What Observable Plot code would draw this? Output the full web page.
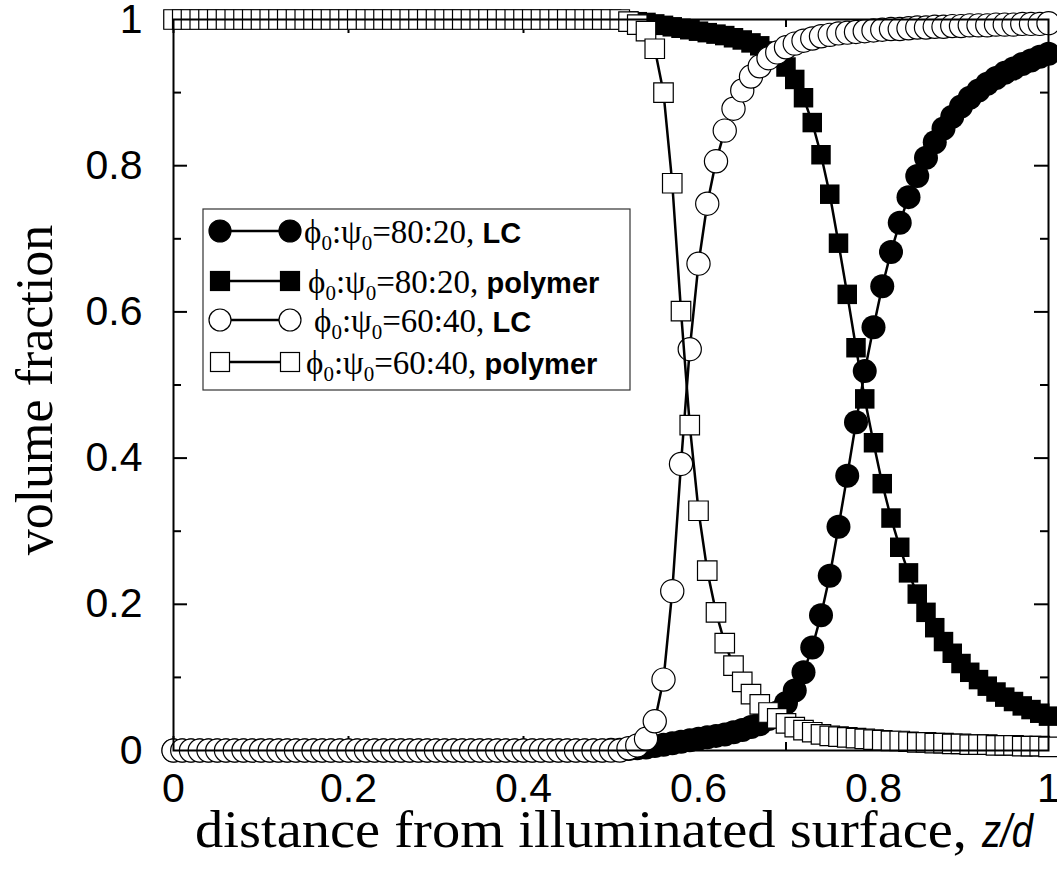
<!DOCTYPE html>
<html><head><meta charset="utf-8">
<script src="https://cdn.jsdelivr.net/npm/d3@7"></script>
<script src="https://cdn.jsdelivr.net/npm/@observablehq/plot@0.6"></script>
<style>html,body{margin:0;padding:0;background:#fff;} svg{display:block;}</style>
</head><body><div id="chart"></div>
<script>
// distance from illuminated surface z/d
const z = [
0,0.01,0.02,0.03,0.04,0.05,0.06,0.07,0.08,0.09,
0.1,0.11,0.12,0.13,0.14,0.15,0.16,0.17,0.18,0.19,
0.2,0.21,0.22,0.23,0.24,0.25,0.26,0.27,0.28,0.29,
0.3,0.31,0.32,0.33,0.34,0.35,0.36,0.37,0.38,0.39,
0.4,0.41,0.42,0.43,0.44,0.45,0.46,0.47,0.48,0.49,
0.5,0.51,0.52,0.53,0.54,0.55,0.56,0.57,0.58,0.59,
0.6,0.61,0.62,0.63,0.64,0.65,0.66,0.67,0.68,0.69,
0.7,0.71,0.72,0.73,0.74,0.75,0.76,0.77,0.78,0.79,
0.8,0.81,0.82,0.83,0.84,0.85,0.86,0.87,0.88,0.89,
0.9,0.91,0.92,0.93,0.94,0.95,0.96,0.97,0.98,0.99,
1];
// phi0:psi0 = 80:20, LC
const lc80 = [
0,0,0,0,0,0,0,0,0,0,
0,0,0,0,0,0,0,0,0,0,
0,0,0,0,0,0,0,0,0,0,
0,0,0,0,0,0,0,0,0,0,
0,0,0,0,0,0,0,0,0,0,
0.001,0.001,0.002,0.003,0.004,0.006,0.008,0.010,0.012,0.014,
0.016,0.018,0.020,0.022,0.025,0.028,0.032,0.036,0.043,0.052,
0.065,0.082,0.107,0.141,0.185,0.239,0.306,0.376,0.449,0.519,
0.579,0.635,0.682,0.722,0.757,0.786,0.811,0.832,0.851,0.867,
0.881,0.893,0.903,0.912,0.920,0.927,0.933,0.939,0.944,0.949,
0.953];
// phi0:psi0 = 80:20, polymer
const pol80 = [
1,1,1,1,1,1,1,1,1,1,
1,1,1,1,1,1,1,1,1,1,
1,1,1,1,1,1,1,1,1,1,
1,1,1,1,1,1,1,1,1,1,
1,1,1,1,1,1,1,1,1,1,
0.999,0.999,0.998,0.997,0.996,0.994,0.992,0.990,0.988,0.986,
0.984,0.982,0.980,0.978,0.975,0.972,0.968,0.964,0.957,0.948,
0.935,0.918,0.893,0.859,0.815,0.761,0.694,0.624,0.551,0.481,
0.421,0.365,0.318,0.278,0.243,0.214,0.189,0.168,0.149,0.133,
0.119,0.107,0.097,0.088,0.080,0.073,0.067,0.061,0.056,0.051,
0.047];
// phi0:psi0 = 60:40, LC
const lc60 = [
0,0,0,0,0,0,0,0,0,0,
0,0,0,0,0,0,0,0,0,0,
0,0,0,0,0,0,0,0,0,0,
0,0,0,0,0,0,0,0,0,0,
0,0,0,0,0,0,0,0,0,0,
0,0,0.003,0.007,0.016,0.040,0.097,0.218,0.392,0.549,
0.666,0.748,0.806,0.848,0.878,0.903,0.922,0.936,0.947,0.955,
0.962,0.967,0.971,0.974,0.977,0.979,0.981,0.982,0.983,0.984,
0.985,0.986,0.987,0.987,0.988,0.989,0.989,0.990,0.990,0.991,
0.991,0.992,0.992,0.992,0.993,0.993,0.993,0.994,0.994,0.994,
0.995];
// phi0:psi0 = 60:40, polymer
const pol60 = [
1,1,1,1,1,1,1,1,1,1,
1,1,1,1,1,1,1,1,1,1,
1,1,1,1,1,1,1,1,1,1,
1,1,1,1,1,1,1,1,1,1,
1,1,1,1,1,1,1,1,1,1,
1,1,0.997,0.993,0.984,0.960,0.900,0.776,0.601,0.445,
0.328,0.246,0.189,0.147,0.116,0.094,0.077,0.063,0.052,0.044,
0.037,0.032,0.028,0.025,0.022,0.020,0.019,0.018,0.017,0.016,
0.015,0.014,0.013,0.013,0.012,0.011,0.011,0.010,0.010,0.009,
0.009,0.008,0.008,0.008,0.007,0.007,0.007,0.006,0.006,0.006,
0.005];

const xMajor = [0, 0.2, 0.4, 0.6, 0.8, 1];
const xMinor = [0.1, 0.3, 0.5, 0.7, 0.9];
const yMajor = [0, 0.2, 0.4, 0.6, 0.8, 1];
const yMinor = [0.1, 0.3, 0.5, 0.7, 0.9];
const xTickLabels = ["0", "0.2", "0.4", "0.6", "0.8", "1"];
const yTickLabels = ["0", "0.2", "0.4", "0.6", "0.8", "1"];
const legendRatios = ["80:20", "80:20", "60:40", "60:40"];
const legendComponents = ["LC", "polymer", "LC", "polymer"];
const xLabelText = "distance from illuminated surface,";
const xLabelVar = "z/d";
const yLabelText = "volume fraction";

const W = 1057, H = 873, mL = 173, mR = 9, mT = 19, mB = 123;
const pw = W - mL - mR, ph = H - mT - mB;
const rows = arr => z.map((x, i) => ({x, y: arr[i]}));
const serif = "'Liberation Serif', 'Times New Roman', Times, serif";
const sans = "'Liberation Sans', Arial, Helvetica, sans-serif";

const series = [
  {data: rows(lc80), symbol: "circle", r: 12, fill: "black", stroke: "none"},
  {data: rows(pol80), symbol: "square", r: 11, fill: "black", stroke: "none"},
  {data: rows(lc60), symbol: "circle", r: 11.6, fill: "white", stroke: "black"},
  {data: rows(pol60), symbol: "square", r: 11, fill: "white", stroke: "black"}
];

const marks = [
  Plot.tickX(xMajor, {x: d => d, insetTop: ph - 14, strokeWidth: 2}),
  Plot.tickX(xMajor, {x: d => d, insetBottom: ph - 14, strokeWidth: 2}),
  Plot.tickX(xMinor, {x: d => d, insetTop: ph - 8, strokeWidth: 2}),
  Plot.tickX(xMinor, {x: d => d, insetBottom: ph - 8, strokeWidth: 2}),
  Plot.tickY(yMajor, {y: d => d, insetRight: pw - 14, strokeWidth: 2}),
  Plot.tickY(yMajor, {y: d => d, insetLeft: pw - 14, strokeWidth: 2}),
  Plot.tickY(yMinor, {y: d => d, insetRight: pw - 8, strokeWidth: 2}),
  Plot.tickY(yMinor, {y: d => d, insetLeft: pw - 8, strokeWidth: 2})
];
for (const s of series) {
  marks.push(Plot.line(s.data, {x: "x", y: "y", stroke: "black", strokeWidth: 2.5}));
  marks.push(Plot.dot(s.data, {x: "x", y: "y", symbol: s.symbol, r: s.r, fill: s.fill,
    stroke: s.stroke, strokeWidth: 1.2}));
}
marks.push(Plot.frame({stroke: "black", strokeWidth: 2}));
marks.push(Plot.axisX({ticks: xMajor, tickSize: 0, tickPadding: 22, label: null,
  tickFormat: d => xTickLabels[xMajor.indexOf(d)], fontSize: 41, fontFamily: sans}));
marks.push(Plot.axisY({ticks: yMajor, tickSize: 0, tickPadding: 31, label: null,
  tickFormat: d => yTickLabels[yMajor.indexOf(d)], fontSize: 41, fontFamily: sans}));

const chart = Plot.plot({
  width: W, height: H,
  marginLeft: mL, marginRight: mR, marginTop: mT, marginBottom: mB,
  x: {domain: [0, 1]}, y: {domain: [0, 1]},
  style: {fontFamily: sans, fontSize: "41px", color: "black", background: "white"},
  marks
});
document.getElementById("chart").appendChild(chart);

const svg = d3.select(chart);
// axis labels
svg.append("text")
  .attr("transform", "translate(52,390) rotate(-90)")
  .attr("text-anchor", "middle")
  .attr("font-family", serif).attr("font-size", 52).attr("fill", "black")
  .text(yLabelText);
svg.append("text")
  .attr("x", 195).attr("y", 847).attr("text-anchor", "start")
  .attr("font-family", serif).attr("font-size", 52).attr("fill", "black")
  .attr("textLength", 772).attr("lengthAdjust", "spacingAndGlyphs")
  .text(xLabelText);
svg.append("text")
  .attr("x", 982).attr("y", 847).attr("text-anchor", "start")
  .attr("font-family", sans).attr("font-style", "italic").attr("font-size", 46).attr("fill", "black")
  .attr("textLength", 51).attr("lengthAdjust", "spacingAndGlyphs")
  .text(xLabelVar);

// legend
const lg = svg.append("g");
lg.append("rect").attr("x", 203).attr("y", 209).attr("width", 427).attr("height", 181)
  .attr("fill", "white").attr("stroke", "#333").attr("stroke-width", 1.2);
const rowY = [231, 281, 320, 362];
const textX = [304, 308, 314, 306];
series.forEach((s, i) => {
  const y = rowY[i];
  const x1 = 220, x2 = 290;
  lg.append("line").attr("x1", x1).attr("x2", x2).attr("y1", y).attr("y2", y)
    .attr("stroke", "black").attr("stroke-width", 2.5);
  for (const x of [x1, x2]) {
    if (s.symbol === "circle") {
      lg.append("circle").attr("cx", x).attr("cy", y).attr("r", 11)
        .attr("fill", s.fill).attr("stroke", "black").attr("stroke-width", 1.2);
    } else {
      lg.append("rect").attr("x", x - 9.5).attr("y", y - 9.5).attr("width", 19).attr("height", 19)
        .attr("fill", s.fill).attr("stroke", "black").attr("stroke-width", 1.2);
    }
  }
  const t = lg.append("text").attr("x", textX[i]).attr("y", y + 12).attr("text-anchor", "start")
    .attr("font-family", serif).attr("font-size", 33).attr("fill", "black");
  t.append("tspan").text("\u03D5");
  t.append("tspan").attr("font-size", 21).attr("dy", 7).text("0");
  t.append("tspan").attr("dy", -7).text(":");
  t.append("tspan").text("\u03C8");
  t.append("tspan").attr("font-size", 21).attr("dy", 7).text("0");
  t.append("tspan").attr("dy", -7).text("=" + legendRatios[i] + ", ");
  t.append("tspan").attr("font-family", sans).attr("font-weight", "bold").attr("font-size", 29)
    .text(legendComponents[i]);
});
</script>
</body></html>
